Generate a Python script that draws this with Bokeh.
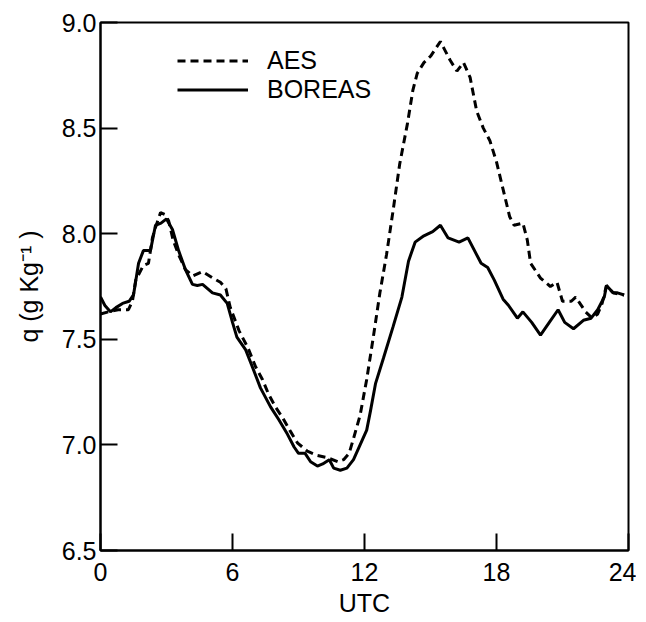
from bokeh.plotting import figure
from bokeh.models import Range1d, FixedTicker, PrintfTickFormatter
from bokeh.embed import file_html
from bokeh.resources import INLINE

# BOREAS (solid) : hour UTC, specific humidity (g/kg)
boreas_t = [0.0, 0.2, 0.45, 0.7, 1.0, 1.3, 1.5, 1.73, 1.95, 2.27, 2.5, 2.75, 3.0, 3.27, 3.55,
            3.86, 4.18, 4.4, 4.64, 5.09, 5.45, 5.76, 6.0, 6.2, 6.6, 6.9, 7.27, 7.73, 8.1, 8.5,
            8.8, 9.0, 9.3, 9.55, 9.86, 10.1, 10.4, 10.6, 10.9, 11.2, 11.5, 11.8, 12.1, 12.27,
            12.5, 12.86, 13.3, 13.7, 14.0, 14.3, 14.7, 15.1, 15.45, 15.8, 16.3, 16.7, 17.3,
            17.6, 17.9, 18.3, 18.55, 18.95, 19.2, 19.6, 20.0, 20.4, 20.8, 21.1, 21.5, 21.95,
            22.3, 22.6, 22.9, 23.0, 23.3, 23.5, 23.8]
boreas_q = [7.70, 7.66, 7.63, 7.65, 7.67, 7.68, 7.71, 7.86, 7.92, 7.92, 8.04, 8.05, 8.07, 8.02, 7.92,
            7.83, 7.76, 7.755, 7.76, 7.72, 7.71, 7.67, 7.58, 7.51, 7.45, 7.37, 7.27, 7.18, 7.12, 7.05,
            6.99, 6.96, 6.96, 6.92, 6.90, 6.91, 6.93, 6.89, 6.88, 6.89, 6.93, 7.00, 7.07, 7.16,
            7.29, 7.41, 7.56, 7.70, 7.87, 7.96, 7.99, 8.01, 8.04, 7.98, 7.96, 7.98, 7.86,
            7.84, 7.78, 7.69, 7.66, 7.60, 7.63, 7.58, 7.52, 7.58, 7.64, 7.58, 7.55, 7.59,
            7.60, 7.64, 7.70, 7.755, 7.72, 7.72, 7.71]

# AES (dashed)
aes_t = [0.0, 0.36, 0.8, 1.27, 1.45, 1.6, 1.95, 2.18, 2.36, 2.5, 2.73, 2.95, 3.1, 3.3, 3.55,
         3.86, 4.2, 4.64, 5.1, 5.45, 5.7, 5.9, 6.3, 6.7, 7.05, 7.36, 7.64, 7.95, 8.27, 8.6,
         8.95, 9.4, 9.86, 10.3, 10.8, 11.05, 11.3, 11.5, 11.8, 12.1, 12.4, 12.7, 13.0, 13.3,
         13.6, 13.95, 14.2, 14.4, 14.7, 15.0, 15.45, 15.6, 15.9, 16.2, 16.5, 16.8, 17.1, 17.4,
         17.7, 18.0, 18.3, 18.6, 18.8, 19.2, 19.4, 19.55, 20.0, 20.45, 20.75, 21.0, 21.4, 21.6,
         22.05, 22.35, 22.6, 22.8, 23.0, 23.3, 23.8]
aes_q = [7.62, 7.63, 7.64, 7.64, 7.68, 7.78, 7.85, 7.86, 7.98, 8.03, 8.10, 8.09, 8.06, 7.97, 7.90,
         7.83, 7.80, 7.82, 7.79, 7.77, 7.74, 7.65, 7.54, 7.46, 7.37, 7.31, 7.24, 7.18, 7.13, 7.07,
         7.01, 6.97, 6.95, 6.94, 6.92, 6.93, 6.96, 7.03, 7.14, 7.31, 7.51, 7.72, 7.90, 8.11,
         8.33, 8.52, 8.68, 8.76, 8.81, 8.84, 8.91, 8.88, 8.82, 8.77, 8.81, 8.74, 8.58, 8.50,
         8.44, 8.34, 8.21, 8.08, 8.04, 8.05, 7.97, 7.86, 7.79, 7.75, 7.77, 7.68, 7.68, 7.70,
         7.63, 7.60, 7.62, 7.67, 7.755, 7.72, 7.71]

x_ticks = [0, 6, 12, 18, 24]
y_ticks = [6.5, 7.0, 7.5, 8.0, 8.5, 9.0]

FONT = "Liberation Sans"
FS = "25px"

p = figure(frame_width=528, frame_height=528,
           x_range=Range1d(0, 24), y_range=Range1d(6.5, 9.0),
           output_backend="svg", toolbar_location=None,
           min_border_left=100, min_border_top=22, min_border_right=8, min_border_bottom=0)

p.grid.visible = False
p.outline_line_color = "black"
p.outline_line_width = 2
p.background_fill_color = "white"
p.border_fill_color = "white"

p.line(aes_t, aes_q, line_color="black", line_width=3, line_dash="8 5", legend_label="AES")
p.line(boreas_t, boreas_q, line_color="black", line_width=3, legend_label="BOREAS")

for ax in (p.xaxis[0], p.yaxis[0]):
    ax.axis_line_width = 2
    ax.axis_line_color = "black"
    ax.major_tick_line_width = 2
    ax.major_tick_line_color = "black"
    ax.major_tick_in = 17
    ax.major_tick_out = 0
    ax.minor_tick_line_color = None
    ax.major_label_text_font = FONT
    ax.major_label_text_font_size = FS
    ax.major_label_text_color = "black"
    ax.axis_label_text_font = FONT
    ax.axis_label_text_font_size = FS
    ax.axis_label_text_font_style = "normal"
    ax.axis_label_text_color = "black"

p.xaxis.ticker = FixedTicker(ticks=x_ticks)
p.yaxis.ticker = FixedTicker(ticks=y_ticks)
p.yaxis.formatter = PrintfTickFormatter(format="%.1f")
p.xaxis.axis_label = "UTC"
p.yaxis.axis_label = "q (g Kg\u207b\u00b9 )"
p.xaxis.major_label_standoff = 12
p.xaxis.axis_label_standoff = 5
p.yaxis.major_label_standoff = 4
p.yaxis.axis_label_standoff = 16

leg = p.legend[0]
leg.location = (77, 446)
leg.glyph_width = 71
leg.glyph_height = 27
leg.label_height = 27
leg.label_standoff = 19
leg.spacing = 0
leg.padding = 0
leg.margin = 0
leg.border_line_alpha = 0
leg.background_fill_alpha = 0
leg.label_text_font = FONT
leg.label_text_font_size = FS
leg.label_text_color = "black"

open("out.html", "w").write(file_html(p, INLINE))
